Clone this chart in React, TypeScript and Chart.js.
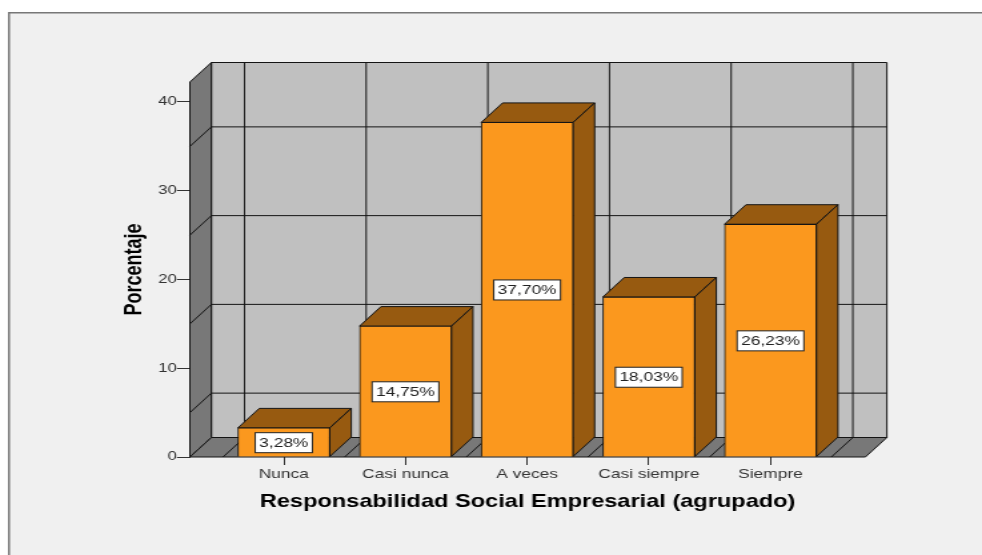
import React, { useEffect, useRef } from "react";
import { Chart, registerables } from "chart.js";

Chart.register(...registerables);

const categories = ["Nunca", "Casi nunca", "A veces", "Casi siempre", "Siempre"];
const percentages = [3.28, 14.75, 37.7, 18.03, 26.23];
const yTicks = [0, 10, 20, 30, 40];
const wallGridValues = [5, 15, 25, 35];
const xTitle = "Responsabilidad Social Empresarial (agrupado)";
const yTitle = "Porcentaje";

const S = 4 / 3;
const CW = Math.round(982 / S);
const CH = 555;
const px = (v: number) => v / S;
const DX = px(21.5);
const DY = -19.5;
const FONT = "'Liberation Sans', Arial, sans-serif";
const LINE = "#141414";
const ORANGE = "#FB981E";
const BROWN = "#975A10";
const WALL = "#787878";
const BACK = "#C0C0C0";

function poly(ctx: CanvasRenderingContext2D, pts: number[][], fill: string) {
  ctx.beginPath();
  pts.forEach((p, i) => (i ? ctx.lineTo(p[0], p[1]) : ctx.moveTo(p[0], p[1])));
  ctx.closePath();
  ctx.fillStyle = fill;
  ctx.fill();
  ctx.strokeStyle = LINE;
  ctx.lineWidth = 1;
  ctx.stroke();
}

function seg(ctx: CanvasRenderingContext2D, a: number, b: number, c: number, d: number) {
  ctx.beginPath();
  ctx.moveTo(a, b);
  ctx.lineTo(c, d);
  ctx.stroke();
}

const frame3d = {
  id: "frame3d",
  beforeDraw(chart: any) {
    const ctx = chart.ctx;
    ctx.save();
    ctx.fillStyle = "#FFFFFF";
    ctx.fillRect(0, 0, CW, CH);
    ctx.fillStyle = "#F0F0F0";
    ctx.fillRect(px(8), 12, CW, CH);
    ctx.fillStyle = "#777777";
    ctx.fillRect(px(8), 12, CW, 1.5);
    ctx.fillRect(px(8), 12, px(2), CH);
    ctx.restore();
  },
  beforeDatasetsDraw(chart: any) {
    const { ctx, chartArea: a, scales } = chart;
    const { left: l, right: r, top: t, bottom: b } = a;
    ctx.save();
    poly(ctx, [[l + DX, t + DY], [r + DX, t + DY], [r + DX, b + DY], [l + DX, b + DY]], BACK);
    poly(ctx, [[l, t], [l + DX, t + DY], [l + DX, b + DY], [l, b]], WALL);
    poly(ctx, [[l, b], [l + DX, b + DY], [r + DX, b + DY], [r, b]], WALL);
    ctx.strokeStyle = LINE;
    ctx.lineWidth = 1;
    wallGridValues.forEach((v) => {
      const y = scales.y.getPixelForValue(v);
      seg(ctx, l, y, l + DX, y + DY);
      seg(ctx, l + DX, y + DY, r + DX, y + DY);
    });
    for (let i = 0; i <= categories.length; i++) {
      const x = scales.x.getPixelForValue(i - 0.5);
      seg(ctx, x + DX, t + DY, x + DX, b + DY);
      seg(ctx, x, b, x + DX, b + DY);
    }
    const meta = chart.getDatasetMeta(0);
    meta.data.forEach((bar: any) => {
      const x0 = bar.x - bar.width / 2;
      const x1 = bar.x + bar.width / 2;
      poly(ctx, [[x0, bar.y], [x0 + DX, bar.y + DY], [x1 + DX, bar.y + DY], [x1, bar.y]], BROWN);
      poly(ctx, [[x1, bar.y], [x1 + DX, bar.y + DY], [x1 + DX, bar.base + DY], [x1, bar.base]], BROWN);
    });
    ctx.restore();
  },
  afterDatasetsDraw(chart: any) {
    const ctx = chart.ctx;
    ctx.save();
    ctx.font = `13px ${FONT}`;
    ctx.textAlign = "center";
    ctx.textBaseline = "middle";
    chart.getDatasetMeta(0).data.forEach((bar: any, i: number) => {
      const label = percentages[i].toFixed(2).replace(".", ",") + "%";
      const w = ctx.measureText(label).width + 6;
      const h = 20;
      const cy = (bar.y + bar.base) / 2 + 0.5;
      ctx.fillStyle = "#FFFFFF";
      ctx.strokeStyle = "#222222";
      ctx.lineWidth = 1;
      ctx.fillRect(bar.x - w / 2, cy - h / 2, w, h);
      ctx.strokeRect(bar.x - w / 2, cy - h / 2, w, h);
      ctx.fillStyle = "#222222";
      ctx.fillText(label, bar.x, cy + 0.5);
    });
    ctx.restore();
  },
};

export default function App() {
  const ref = useRef<HTMLCanvasElement | null>(null);
  useEffect(() => {
    document.body.style.margin = "0";
    const chart = new Chart(ref.current as HTMLCanvasElement, {
      type: "bar",
      data: {
        datasets: [
          {
            label: yTitle,
            data: categories.map((_, i) => ({ x: i, y: percentages[i] })),
            backgroundColor: ORANGE,
            borderColor: LINE,
            borderWidth: 1,
            barThickness: px(92),
          },
        ],
      },
      options: {
        animation: false,
        responsive: false,
        devicePixelRatio: 1,
        layout: { padding: { left: 0, top: 82, right: CW - px(866), bottom: 0 } },
        plugins: { legend: { display: false }, tooltip: { enabled: false } },
        scales: {
          x: {
            type: "linear",
            offset: false,
            min: -94 / 121.75,
            max: 4 + 95 / 121.75,
            afterBuildTicks(s: any) {
              s.ticks = categories.map((_, i) => ({ value: i }));
            },
            afterFit(s: any) {
              s.height = CH - 457;
            },
            grid: { offset: false, drawOnChartArea: false, drawTicks: true, tickLength: 8, color: "#333333" },
            border: { display: false },
            ticks: {
              autoSkip: false,
              maxRotation: 0,
              padding: 2,
              color: "#333333",
              font: { family: FONT, size: 13 },
              callback: (v: any) => categories[v as number],
            },
            title: {
              display: true,
              text: xTitle,
              color: "#000000",
              font: { family: FONT, size: 17.7, weight: "bold" },
              padding: { top: 0, bottom: 42 },
            },
          },
          y: {
            min: 0,
            max: (457 - 82) / 8.875,
            afterBuildTicks(s: any) {
              s.ticks = yTicks.map((value) => ({ value }));
            },
            afterFit(s: any) {
              s.width = px(190);
            },
            grid: { drawOnChartArea: false, drawTicks: true, tickLength: px(13), color: "#333333" },
            border: { display: false },
            ticks: {
              padding: 0,
              color: "#333333",
              font: { family: FONT, size: 12.5 },
            },
            title: {
              display: true,
              text: yTitle,
              color: "#000000",
              font: { family: FONT, size: 18, weight: "bold" },
              padding: { top: 90, bottom: 0 },
            },
          },
        },
      } as any,
      plugins: [frame3d],
    });
    return () => chart.destroy();
  }, []);
  return (
    <canvas
      ref={ref}
      width={CW}
      height={CH}
      style={{ display: "block", width: "982px", height: "555px" }}
    />
  );
}
